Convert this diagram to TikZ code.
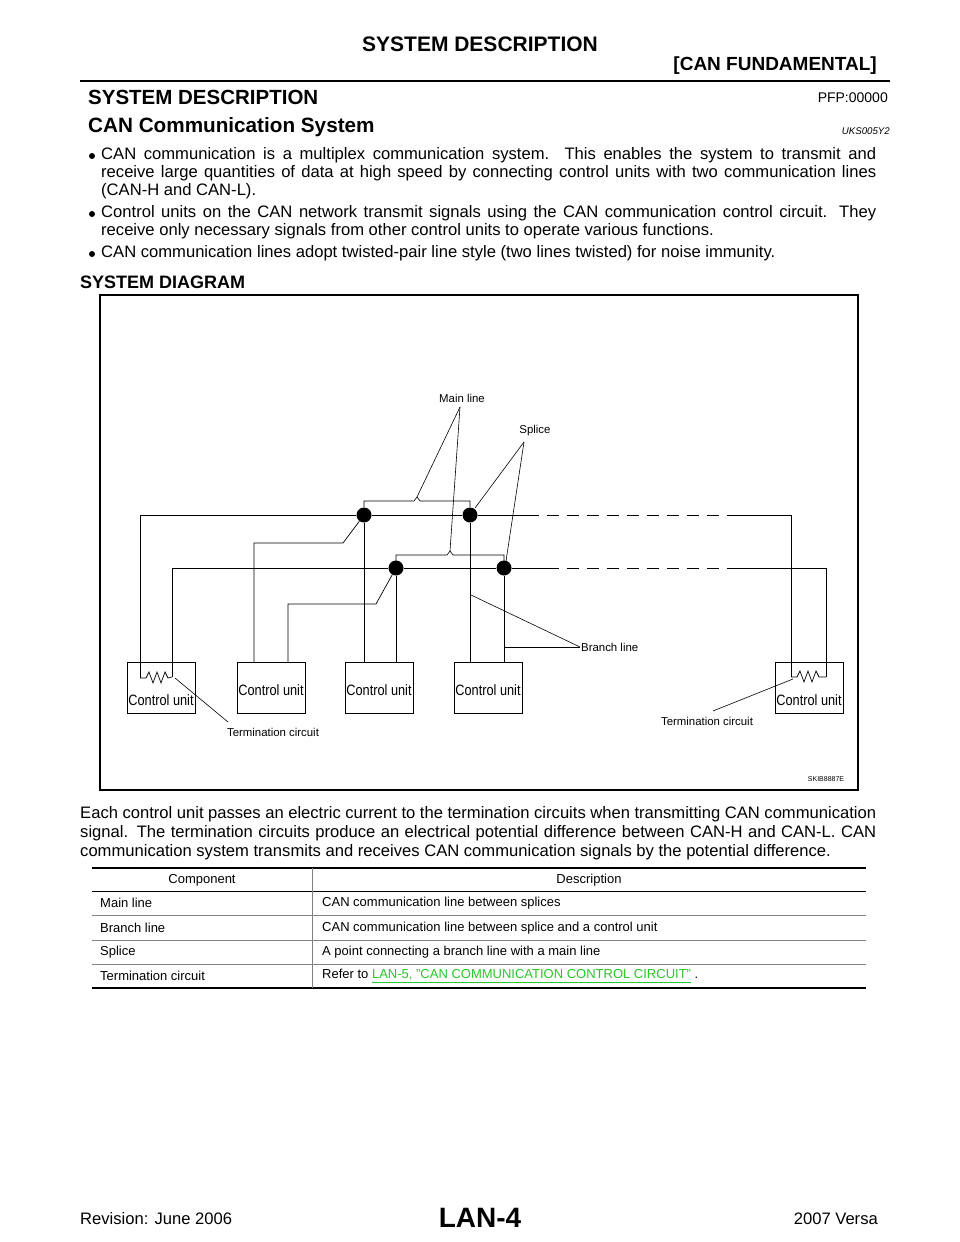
\documentclass[tikz,border=0pt]{standalone}
\usepackage{fontspec}
\setmainfont{Liberation Sans}
\usetikzlibrary{decorations.pathreplacing}
\definecolor{linkgreen}{RGB}{40,200,40}
\newcommand\jline[1]{\makebox[775pt][s]{#1}}
\begin{document}
\begin{tikzpicture}[x=1pt,y=-1pt,
  txt/.style={inner sep=0pt,font=\fontsize{16.6}{18}\selectfont},
  lab/.style={inner sep=0pt,font=\fontsize{11.4}{13}\selectfont},
  cu/.style={draw,line width=0.8pt,minimum width=68pt,minimum height=51pt,inner sep=0pt,anchor=north west},
  cutext/.style={inner sep=0pt,font=\fontsize{15}{17}\selectfont\addfontfeature{FakeStretch=0.85}},
  wire/.style={line width=0.7pt},
  lead/.style={line width=0.6pt},
  spl/.style={circle,fill,inner sep=0pt,minimum size=15pt},
  bul/.style={circle,fill,inner sep=0pt,minimum size=6pt},
  hd/.style={inner sep=0pt,font=\fontsize{21}{24}\selectfont\bfseries}]
\useasboundingbox (0,0) rectangle (960,1242);
\fill[white] (0,0) rectangle (960,1242);
% header
\node[hd] (t1) at (480,44) {SYSTEM DESCRIPTION};
\node[hd,anchor=east,font=\fontsize{19}{22}\selectfont\bfseries] (t2) at (877,66) {[CAN FUNDAMENTAL]};
\draw[line width=2.2pt] (80,81) -- (890,81);
\node[hd,anchor=west,font=\fontsize{20.5}{24}\selectfont\bfseries] (t3) at (88,97) {SYSTEM DESCRIPTION};
\node[txt,anchor=east,font=\fontsize{14}{15}\selectfont] (pfp) at (888,98) {PFP:00000};
\node[hd,anchor=west,font=\fontsize{20.7}{24}\selectfont\bfseries] (t4) at (88,127) {CAN Communication System};
\node[txt,anchor=east,font=\fontsize{9.7}{11}\selectfont\itshape] (uks) at (890,131) {UKS005Y2};
% bullets
\node[bul] (b1) at (92,156) {};
\node[bul] (b2) at (92,214) {};
\node[bul] (b3) at (92,254) {};
\node[txt,anchor=west] (p1a) at (101,155) {\jline{CAN communication is a multiplex communication system. This enables the system to transmit and}};
\node[txt,anchor=west] (p1b) at (101,173) {\jline{receive large quantities of data at high speed by connecting control units with two communication lines}};
\node[txt,anchor=west] (p1c) at (101,191) {(CAN-H and CAN-L).};
\node[txt,anchor=west] (p2a) at (101,213) {\jline{Control units on the CAN network transmit signals using the CAN communication control circuit. They}};
\node[txt,anchor=west] (p2b) at (101,231) {receive only necessary signals from other control units to operate various functions.};
\node[txt,anchor=west] (p3) at (101,253) {CAN communication lines adopt twisted-pair line style (two lines twisted) for noise immunity.};
\node[txt,anchor=west,font=\fontsize{18}{20}\selectfont\bfseries] (sd) at (80,282) {SYSTEM DIAGRAM};
% frame
\draw[line width=1.3pt] (100,295) rectangle (858,790);
% boxes
\node[cu] (c1) at (127,662) {};
\node[cu] (c2) at (237,662) {};
\node[cu] (c3) at (345,662) {};
\node[cu] (c4) at (454,662) {};
\node[cu] (c5) at (775,662) {};
\node[cutext] at (161,700) {Control unit};
\node[cutext] at (271,690) {Control unit};
\node[cutext] at (379,690) {Control unit};
\node[cutext] at (488,690) {Control unit};
\node[cutext] at (809,700) {Control unit};
% splices
\node[spl] (h1) at (364,515) {};
\node[spl] (h2) at (470,515) {};
\node[spl] (l1) at (396,568) {};
\node[spl] (l2) at (504,568) {};
% wires
\draw[wire] (140,678) -- (140,515) -- (h1) -- (h2) -- (527,515);
\draw[wire,dashed,dash pattern=on 12pt off 8pt] (527,515) -- (733,515);
\draw[wire] (733,515) -- (791,515) -- (791,677);
\draw[wire] (172,677) -- (172,568) -- (l1) -- (l2) -- (547,568);
\draw[wire,dashed,dash pattern=on 12pt off 8pt] (547,568) -- (737,568);
\draw[wire] (737,568) -- (826,568) -- (826,677);
\draw[wire] (254,662) -- (254,543) -- (343,543) -- (h1);
\draw[wire] (288,662) -- (288,604) -- (376,604) -- (l1);
\draw[wire] (h1) -- (364,662);
\draw[wire] (l1) -- (396,662);
\draw[wire] (h2) -- (470,662);
\draw[wire] (l2) -- (504,662);
% resistors
\draw[wire] (140,678) -- (146,678) -- (149,672) -- (153,683) -- (157,672) -- (161,683) -- (165,672) -- (168,678) -- (172,677);
\draw[wire] (791,677) -- (797,677) -- (800,671) -- (804,682) -- (808,671) -- (812,682) -- (816,671) -- (819,677) -- (826,677);
% braces
\draw[lead] (364,507) -- (364,501) -- (414,501) -- (417,497) -- (420,501) -- (470,501) -- (470,507);
\draw[lead] (396,561) -- (396,555) -- (447,555) -- (450,551) -- (453,555) -- (504,555) -- (504,561);
% labels
\node[lab] (ml) at (462,398) {Main line};
\draw[lead] (460,407) -- (417,497);
\draw[lead] (460,407) -- (450,551);
\node[lab] (sp) at (535,431) {Splice};
\draw[lead] (524,442) -- (475,508);
\draw[lead] (524,442) -- (506,561);
\node[lab,anchor=west] (bl) at (581,647) {Branch line};
\draw[lead] (580,647) -- (471,595);
\draw[lead] (580,647) -- (504,647);
\node[lab] (tc1) at (273,732) {Termination circuit};
\draw[lead] (228,722) -- (175,678);
\node[lab] (tc2) at (707,721) {Termination circuit};
\draw[lead] (713,711) -- (793,679);
\node[lab,font=\fontsize{7}{8}\selectfont] (sk) at (826,779) {SKIB8887E};
% paragraph under diagram
\node[txt,anchor=west] (q1) at (80,814) {\makebox[796pt][s]{Each control unit passes an electric current to the termination circuits when transmitting CAN communication}};
\node[txt,anchor=west] (q2) at (80,833) {\makebox[796pt][s]{signal. The termination circuits produce an electrical potential difference between CAN-H and CAN-L. CAN}};
\node[txt,anchor=west] (q3) at (80,852) {communication system transmits and receives CAN communication signals by the potential difference.};
% table
\begin{scope}[every node/.style={inner sep=0pt,font=\fontsize{13}{14}\selectfont}]
\draw[line width=1.8pt] (92,868) -- (866,868);
\draw[line width=0.5pt] (92,891) -- (866,891);
\draw[line width=0.4pt,gray] (92,915) -- (866,915) (92,940) -- (866,940) (92,964) -- (866,964);
\draw[line width=1.8pt] (92,988) -- (866,988);
\draw[line width=0.4pt,gray] (312,868) -- (312,988);
\node (th1) at (202,880) {Component};
\node (th2) at (589,880) {Description};
\node[anchor=west] (r1a) at (100,903) {Main line};
\node[anchor=west] (r1b) at (322,903) {CAN communication line between splices};
\node[anchor=west] (r2a) at (100,928) {Branch line};
\node[anchor=west] (r2b) at (322,928) {CAN communication line between splice and a control unit};
\node[anchor=west] (r3a) at (100,952) {Splice};
\node[anchor=west] (r3b) at (322,952) {A point connecting a branch line with a main line};
\node[anchor=west] (r4a) at (100,976) {Termination circuit};
\node[anchor=west] (r4b) at (322,976) {Refer to \textcolor{linkgreen}{\underline{LAN-5, "CAN COMMUNICATION CONTROL CIRCUIT"}} .};
\end{scope}
% footer
\node[hd,font=\fontsize{28}{30}\selectfont\bfseries] (lan) at (480,1218) {LAN-4};
\node[txt,anchor=west] (rev) at (80,1219) {Revision: June 2006};
\node[txt,anchor=east] (ver) at (878,1219) {2007 Versa};
\end{tikzpicture}
\end{document}
